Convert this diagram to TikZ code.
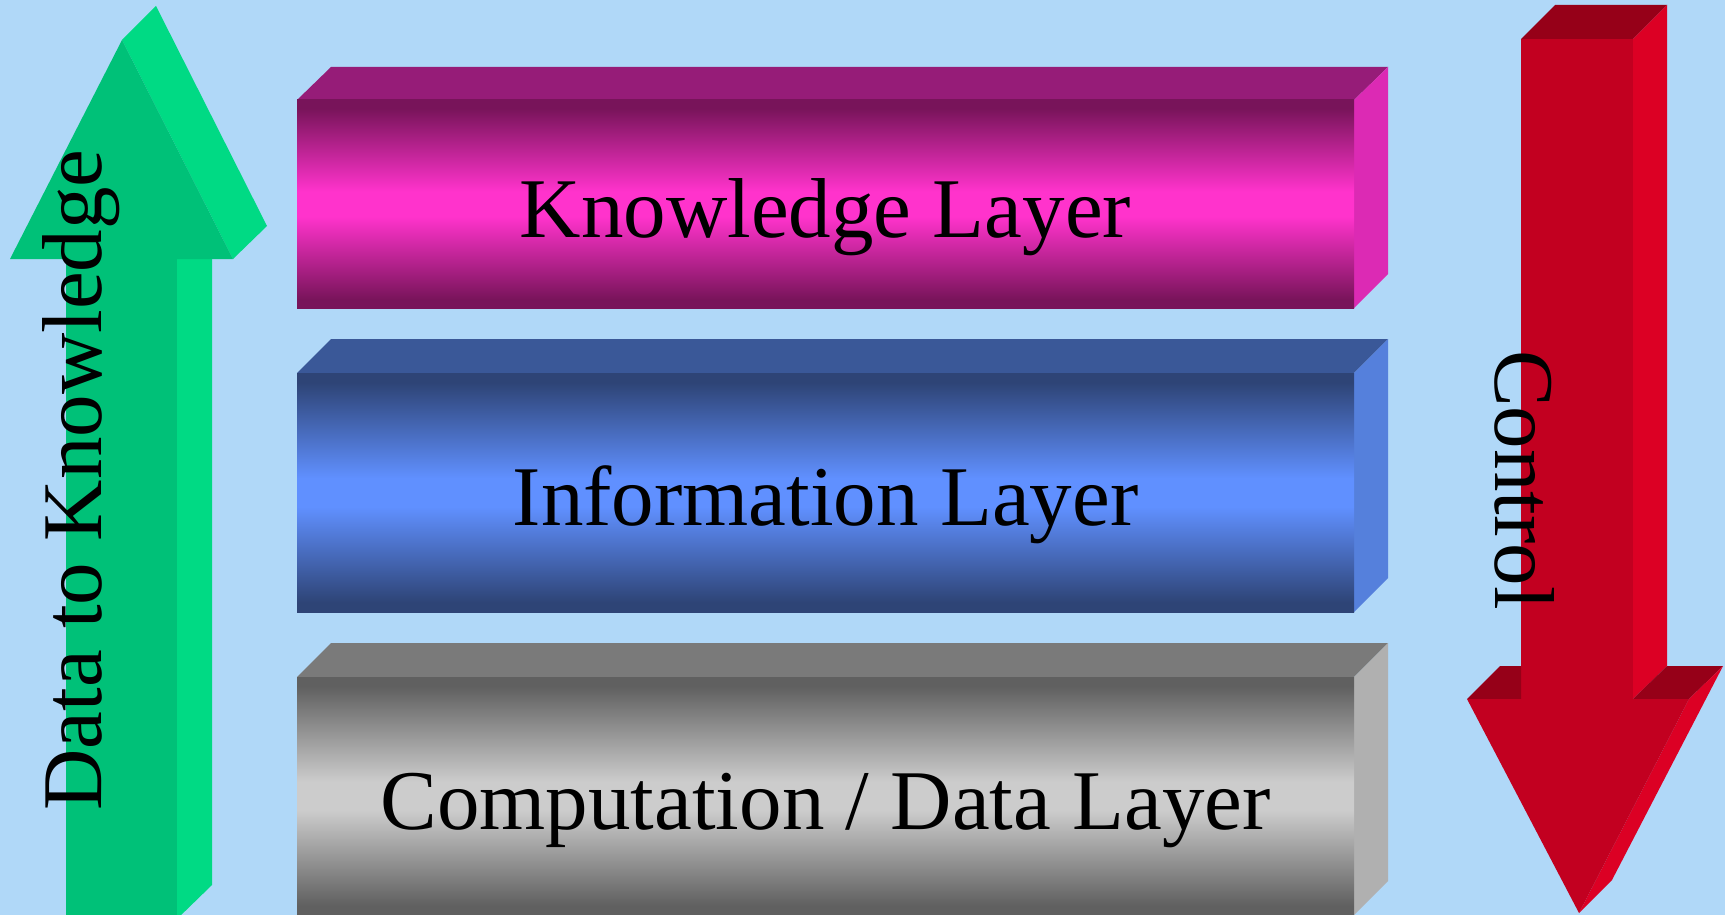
\documentclass[tikz,border=0pt]{standalone}
\usepackage{fontspec}
\setmainfont{Liberation Serif}
\definecolor{bgblue}{RGB}{176,216,248}
\definecolor{gfront}{RGB}{0,193,120}
\definecolor{gside}{RGB}{0,218,132}
\definecolor{rfront}{RGB}{194,0,32}
\definecolor{rside}{RGB}{220,0,36}
\definecolor{rtop}{RGB}{150,0,24}
\definecolor{ktop}{RGB}{150,28,120}
\definecolor{kside}{RGB}{220,42,180}
\definecolor{kdark}{RGB}{120,20,90}
\definecolor{kbright}{RGB}{255,51,204}
\definecolor{itop}{RGB}{58,88,152}
\definecolor{iside}{RGB}{85,128,220}
\definecolor{idark}{RGB}{46,68,118}
\definecolor{ibright}{RGB}{96,144,255}
\definecolor{ctop}{RGB}{122,122,122}
\definecolor{cside}{RGB}{176,176,176}
\definecolor{cdark}{RGB}{96,96,96}
\definecolor{cbright}{RGB}{204,204,204}
\pgfdeclareverticalshading{kshade}{100bp}{color(0bp)=(kdark); color(25bp)=(kdark); color(27bp)=(kdark); color(47bp)=(kbright); color(53bp)=(kbright); color(73bp)=(kdark); color(75bp)=(kdark); color(100bp)=(kdark)}
\pgfdeclareverticalshading{ishade}{100bp}{color(0bp)=(idark); color(25bp)=(idark); color(27bp)=(idark); color(47bp)=(ibright); color(53bp)=(ibright); color(73bp)=(idark); color(75bp)=(idark); color(100bp)=(idark)}
\pgfdeclareverticalshading{cshade}{100bp}{color(0bp)=(cdark); color(25bp)=(cdark); color(27bp)=(cdark); color(47bp)=(cbright); color(53bp)=(cbright); color(73bp)=(cdark); color(75bp)=(cdark); color(100bp)=(cdark)}
\tikzset{
  lbl/.style={font=\fontsize{85}{100}\selectfont, text=black, inner sep=0pt, anchor=base},
}
\newcommand{\layerbox}[6]{%
  \fill[#4] (297,#2) -- (331,#1) -- (1388,#1) -- (1354,#2) -- cycle;
  \fill[#5] (1354,#2) -- (1388,#1) -- (1388,#3-34) -- (1354,#3) -- cycle;
  \shade[shading=#6] (297,#2) rectangle (1354,#3);
}
\begin{document}
\begin{tikzpicture}[x=1pt,y=-1pt]
\useasboundingbox (0,0) rectangle (1725,915);
\fill[bgblue] (0,0) rectangle (1725,915);
% green arrow (Data to Knowledge)
\fill[gside] (177,259) -- (212,225) -- (212,885) -- (177,919) -- cycle;
\fill[gfront] (66,259) rectangle (177,920);
\fill[gside] (122,40) -- (156,6) -- (267,226) -- (233,259) -- cycle;
\fill[gfront] (122,40) -- (10,259) -- (233,259) -- cycle;
% red arrow (Control)
\fill[rtop] (1521,39) -- (1555,5) -- (1667,5) -- (1633,39) -- cycle;
\fill[rside] (1633,39) -- (1667,5) -- (1667,666) -- (1633,699) -- cycle;
\fill[rfront] (1521,39) rectangle (1633,699);
\fill[rtop] (1467,699) -- (1500,666) -- (1521,666) -- (1521,699) -- cycle;
\fill[rtop] (1633,699) -- (1667,666) -- (1723,666) -- (1689,699) -- cycle;
\fill[rside] (1689,699) -- (1723,666) -- (1612,880) -- (1579,913) -- cycle;
\fill[rfront] (1467,699) -- (1689,699) -- (1579,913) -- cycle;
% layers
\layerbox{67}{100}{308}{ktop}{kside}{kshade}
\layerbox{339}{373}{612}{itop}{iside}{ishade}
\layerbox{643}{677}{915}{ctop}{cside}{cshade}
% labels
\node[lbl] (know) at (825.5,237) {Knowledge Layer};
\node[lbl] (info) at (825.5,525) {Information Layer};
\node[lbl] (comp) at (825.5,829) {Computation / Data Layer};
\node[lbl, rotate=90] (d2k) at (101,480) {Data to Knowledge};
\node[lbl, rotate=-90] (ctrl) at (1495,480) {Control};
\end{tikzpicture}
\end{document}
